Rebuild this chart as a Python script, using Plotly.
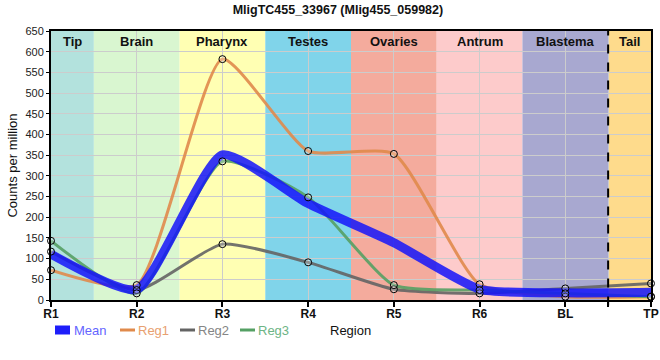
import plotly.graph_objects as go

regions = ["R1", "R2", "R3", "R4", "R5", "R6", "BL", "TP"]
reg1 = [72, 36, 582, 360, 353, 38, 8, 8]
reg2 = [117, 24, 135, 91, 26, 16, 28, 40]
reg3 = [143, 16, 335, 248, 36, 24, 16, 8]
mean = [round((a + b + c) / 3, 1) for a, b, c in zip(reg1, reg2, reg3)]

band_names = ["Tip", "Brain", "Pharynx", "Testes", "Ovaries", "Antrum", "Blastema", "Tail"]
band_starts = [0, 0.5, 1.5, 2.5, 3.5, 4.5, 5.5, 6.5]
band_ends = [0.5, 1.5, 2.5, 3.5, 4.5, 5.5, 6.5, 7]
band_colors = ["#b3e2dd", "#d9f6d0", "#ffffb3", "#80d4ea", "#f4ab9d",
               "#fdcbcb", "#a8a8d0", "#fedb8c"]

xs = list(range(len(regions)))
FONT = "Liberation Sans, Arial, sans-serif"
SMOOTH = 0.55
ML, MR = 51, 9
PW = 660 - ML - MR

fig = go.Figure()

series = [
    ("Reg1", reg1, "rgba(224,138,75,0.9)", 3),
    ("Reg2", reg2, "rgba(100,100,100,0.9)", 3),
    ("Reg3", reg3, "rgba(85,160,100,0.9)", 3),
]
for name, vals, col, w in series:
    fig.add_trace(go.Scatter(x=xs, y=vals, mode="lines", name=name,
                             line=dict(color=col, width=w, shape="spline", smoothing=SMOOTH),
                             showlegend=False, cliponaxis=False))
fig.add_trace(go.Scatter(x=xs, y=mean, mode="lines", name="Mean",
                         line=dict(color="rgba(20,20,250,0.85)", width=9, shape="spline", smoothing=SMOOTH),
                         showlegend=False, cliponaxis=False))
for name, vals, col, w in series:
    fig.add_trace(go.Scatter(x=xs, y=vals, mode="markers", name=name + " pts",
                             marker=dict(symbol="circle", size=7, color="rgba(255,255,255,0.25)",
                                         line=dict(color="black", width=1)),
                             showlegend=False, cliponaxis=False))

shapes = []
for s, e, c in zip(band_starts, band_ends, band_colors):
    shapes.append(dict(type="rect", xref="x", yref="paper", x0=s, x1=e, y0=0, y1=1,
                       fillcolor=c, line=dict(width=0), layer="below"))
shapes.append(dict(type="line", xref="x", yref="paper", x0=6.5, x1=6.5, y0=-0.02, y1=1,
                   line=dict(color="black", width=2, dash="dash"), layer="above"))

annotations = []
for n, s, e in zip(band_names, band_starts, band_ends):
    annotations.append(dict(x=(s + e) / 2, y=1, xref="x", yref="paper", yanchor="top",
                            yshift=-1, text="<b>%s</b>" % n, showarrow=False,
                            font=dict(family=FONT, size=13, color="#111")))

# custom legend
def px_x(p):
    return (p - ML) / float(PW)
ly = (300 - 330) / 269.0
leg = [("Mean", "rgb(30,30,250)", 9, "#6464ff", 55, 70, 73),
       ("Reg1", "rgb(224,138,75)", 3, "#e8a070", 120, 135, 137),
       ("Reg2", "rgb(100,100,100)", 3, "#858585", 180, 195, 197),
       ("Reg3", "rgb(85,160,100)", 3, "#6db485", 240, 255, 257)]
for name, lc, lw, tc, a, b, t in leg:
    shapes.append(dict(type="line", xref="paper", yref="paper", x0=px_x(a), x1=px_x(b),
                       y0=ly, y1=ly, line=dict(color=lc, width=lw)))
    annotations.append(dict(x=px_x(t), y=ly, xref="paper", yref="paper", xanchor="left",
                            yanchor="middle", text=name, showarrow=False, borderpad=0,
                            font=dict(family=FONT, size=13, color=tc)))
annotations.append(dict(x=px_x(350), y=ly, xref="paper", yref="paper", xanchor="center",
                        yanchor="middle", text="Region", showarrow=False, borderpad=0,
                        font=dict(family=FONT, size=13, color="#111")))

fig.update_layout(
    width=660, height=360,
    margin=dict(l=ML, r=MR, t=31, b=60, autoexpand=False),
    paper_bgcolor="white", plot_bgcolor="white",
    title=dict(text="<b>MligTC455_33967 (Mlig455_059982)</b>", x=0.512, xanchor="center",
               yref="container", y=0.985, yanchor="top",
               font=dict(family=FONT, size=12.5, color="#111")),
    shapes=shapes, annotations=annotations,
    showlegend=False,
    font=dict(family=FONT),
)
fig.update_xaxes(range=[0, 7], tickmode="array", tickvals=xs + [6.5],
                 ticktext=["<b>%s</b>" % r for r in regions] + [""],
                 showgrid=True, gridcolor="#cccccc", gridwidth=1,
                 showline=True, linecolor="black", linewidth=2, mirror=True,
                 ticks="outside", ticklen=5, tickcolor="black", tickwidth=1.5,
                 ticklabelstandoff=-3,
                 tickfont=dict(family=FONT, size=12, color="#111"), zeroline=False,
                 automargin=False, ticklabeloverflow="allow")
fig.update_yaxes(range=[0, 650], dtick=50, showgrid=True, gridcolor="#cccccc", gridwidth=1,
                 showline=True, linecolor="black", linewidth=2, mirror=True,
                 ticks="outside", ticklen=3, tickcolor="black",
                 tickfont=dict(family=FONT, size=11, color="#222"), zeroline=False,
                 automargin=False,
                 title=dict(text="Counts per million", font=dict(family=FONT, size=13, color="#111"),
                            standoff=5))

fig.write_html("out.html", config={"displayModeBar": False},
               post_script="document.body.style.margin='0';document.body.style.overflow='hidden';")
